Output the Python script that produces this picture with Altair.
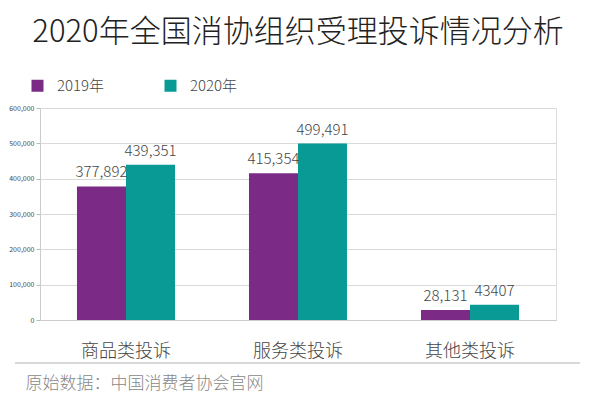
import altair as alt
import pandas as pd

categories = ["商品类投诉", "服务类投诉", "其他类投诉"]
years = ["2019年", "2020年"]
values_2019 = [377892, 415354, 28131]
values_2020 = [439351, 499491, 43407]
labels_2019 = ["377,892", "415,354", "28,131"]
labels_2020 = ["439,351", "499,491", "43407"]
colors = ["#7b2a85", "#0a9a95"]
y_ticks = [0, 100000, 200000, 300000, 400000, 500000, 600000]

rows = []
for i, c in enumerate(categories):
    rows.append({"cat": c, "year": years[0], "value": values_2019[i], "label": labels_2019[i]})
    rows.append({"cat": c, "year": years[1], "value": values_2020[i], "label": labels_2020[i]})
df = pd.DataFrame(rows)

FONT = "Noto Sans CJK SC"
W = 300

x_enc = alt.X("cat:N", sort=categories,
              scale=alt.Scale(paddingInner=0.43, paddingOuter=0.215),
              axis=alt.Axis(title="原始数据：中国消费者协会官网", titleAnchor="start",
                            titleAlign="left", titleX=-15, titleY=63, titleBaseline="middle",
                            titleFontSize=17, titleColor="#888888", titleFontWeight=W,
                            titleFont=FONT,
                            labelAngle=0, labelFontSize=18, labelColor="#444444", labelFont=FONT,
                            labelFontWeight=W,
                            labelPadding=22, ticks=False, domainColor="#cccccc", grid=False))
xoff = alt.XOffset("year:N", sort=years, scale=alt.Scale(paddingInner=0, paddingOuter=0))
y_enc = alt.Y("value:Q", scale=alt.Scale(domain=[0, 600000]),
              axis=alt.Axis(title=None, values=y_ticks,
                            format=",.0f", labelFontSize=7, labelColor="#444444", labelFont=FONT,
                            tickSize=4, tickColor="#bbbbbb", labelPadding=2,
                            domainColor="#cccccc", gridColor="#d9d9d9"))

base = alt.Chart(df)
bars = base.mark_bar().encode(
    x=x_enc, xOffset=xoff, y=y_enc,
    color=alt.Color("year:N", sort=years, scale=alt.Scale(domain=years, range=colors),
                    legend=alt.Legend(title=None, orient="none", legendX=-10, legendY=-30,
                                      direction="horizontal", symbolType="square",
                                      symbolSize=144, symbolStrokeWidth=0, labelFontSize=15,
                                      labelColor="#444444", labelFont=FONT, labelFontWeight=W,
                                      labelOffset=12, columnPadding=58)),
)
texts = base.mark_text(baseline="bottom", dy=-6, fontSize=15, color="#444444", font=FONT,
                       fontWeight=W).encode(
    x=x_enc, xOffset=xoff, y=y_enc, text="label:N")

rule_df = pd.DataFrame({"k": [0]})
rule = alt.Chart(rule_df).mark_rule(color="#cccccc", strokeWidth=1.5).encode(
    x=alt.value(-25), x2=alt.value(540), y=alt.value(255))

chart = alt.layer(bars, texts, rule).properties(
    width=516, height=212,
    autosize=alt.AutoSizeParams(type="none"),
    padding={"left": 32, "top": 100, "right": 36, "bottom": 75},
    title=alt.TitleParams("2020年全国消协组织受理投诉情况分析", fontSize=31, font=FONT,
                          fontWeight=W, color="#222222", anchor="middle", offset=29,
                          limit=600),
).configure_view(stroke=None).configure(background="white")

chart.save("out.html", embed_options={"renderer": "svg", "actions": False})
